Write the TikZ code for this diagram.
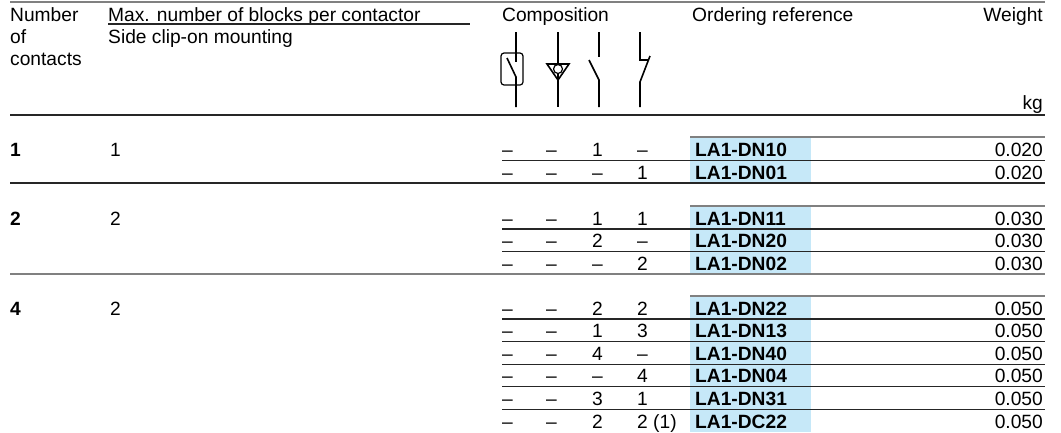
\documentclass[tikz,border=0pt]{standalone}
\usepackage{fontspec}
\setmainfont{Liberation Sans}
\definecolor{refblue}{RGB}{198,232,248}
\tikzset{
  txt/.style={inner sep=0pt, font=\fontsize{19.2}{22}\selectfont},
  lt/.style={txt, anchor=base west},
  rt/.style={txt, anchor=base east},
  bold/.style={font=\fontsize{19.2}{22}\selectfont\bfseries},
  rule/.style={line width=1.2pt, black!85},
  grayrule/.style={line width=2pt, black!50},
  sym/.style={line width=1.6pt},
}

\begin{document}
\begin{tikzpicture}[x=1pt,y=-1pt]
  \useasboundingbox (0,0) rectangle (1061,432);
  \draw[grayrule] (10,1.5) -- (1045,1.5);
  \node[lt] (hnum) at (10,21) {Number};
  \node[lt] (hof) at (10,43) {of};
  \node[lt] (hcont) at (10,65) {contacts};
  \node[lt] (hmax) at (108,21) {Max. number of blocks per contactor};
  \node[lt] (hside) at (108,43) {Side clip-on mounting};
  \node[lt] (hcomp) at (502,21) {Composition};
  \node[lt] (href) at (692,21) {Ordering reference};
  \node[rt] (hweight) at (1043,21) {Weight};
  \node[rt] (hkg) at (1043,109) {kg};
  \draw[rule] (108,24) -- (470,24);
  \draw[rule] (10,115) -- (1045,115);
  \draw[sym] (516,32) -- (516,62);
  \draw[sym] (507,58) -- (516,77) -- (516,107);
  \draw[line width=1.2pt, rounded corners=3pt] (501,53) rectangle (523,85);
  \draw[sym] (558,32) -- (558,107);
  \draw[sym, line join=miter] (547,64) -- (569,64) -- (558,80) -- cycle;
  \draw[line width=1.2pt, fill=white] (558,69) circle (4.5);
  \draw[sym] (599,32) -- (599,57);
  \draw[sym] (589,60) -- (599,80) -- (599,107);
  \draw[sym] (640,32) -- (640,60) -- (648,60);
  \draw[sym] (650,56) -- (640,82) -- (640,107);
  \fill[refblue] (690,137) rectangle (811,183);
  \draw[grayrule] (690,137) -- (1045,137);
  \node[lt,bold] (n1) at (10,156.5) {1};
  \node[lt] (m1) at (110,156.5) {1};
  \foreach \c/\d/\r [count=\i from 0] in {1/–/LA1-DN10,–/1/LA1-DN01}{
    \pgfmathsetmacro\yb{156.5+22.6*\i}
    \node[lt] (ga\i) at (502,\yb) {–};
    \node[lt] (gb\i) at (546,\yb) {–};
    \node[lt] (gc\i) at (592,\yb) {\c};
    \node[lt] (gd\i) at (637,\yb) {\d};
    \node[lt,bold] (gr\i) at (695,\yb) {\r};
    \node[rt] (gw\i) at (1043,\yb) {0.020};
  }
  \draw[rule] (502,160.5) -- (1045,160.5);
  \draw[rule] (10,183) -- (1045,183);
  \fill[refblue] (690,206) rectangle (811,274);
  \draw[grayrule] (690,206) -- (1045,206);
  \node[lt,bold] (n2) at (10,225) {2};
  \node[lt] (m2) at (110,225) {2};
  \foreach \c/\d/\r [count=\i from 0] in {1/1/LA1-DN11,2/–/LA1-DN20,–/2/LA1-DN02}{
    \pgfmathsetmacro\yb{225+22.6*\i}
    \node[lt] (ha\i) at (502,\yb) {–};
    \node[lt] (hb\i) at (546,\yb) {–};
    \node[lt] (hc\i) at (592,\yb) {\c};
    \node[lt] (hd\i) at (637,\yb) {\d};
    \node[lt,bold] (hr\i) at (695,\yb) {\r};
    \node[rt] (hw\i) at (1043,\yb) {0.030};
  }
  \foreach \i in {0,1}
    \draw[rule] (502,229+22.6*\i) -- (1045,229+22.6*\i);
  \draw[grayrule] (10,274) -- (1045,274);
  \fill[refblue] (690,296) rectangle (811,432);
  \draw[grayrule] (690,296) -- (1045,296);
  \node[lt,bold] (n4) at (10,315) {4};
  \node[lt] (m4) at (110,315) {2};
  \foreach \c/\d/\r [count=\i from 0] in {2/2/LA1-DN22,1/3/LA1-DN13,4/–/LA1-DN40,–/4/LA1-DN04,3/1/LA1-DN31,2/2 (1)/LA1-DC22}{
    \pgfmathsetmacro\yb{315+22.6*\i}
    \node[lt] (ka\i) at (502,\yb) {–};
    \node[lt] (kb\i) at (546,\yb) {–};
    \node[lt] (kc\i) at (592,\yb) {\c};
    \node[lt] (kd\i) at (637,\yb) {\d};
    \node[lt,bold] (kr\i) at (695,\yb) {\r};
    \node[rt] (kw\i) at (1043,\yb) {0.050};
  }
  \foreach \i in {0,...,4}
    \draw[rule] (502,319+22.6*\i) -- (1045,319+22.6*\i);
\end{tikzpicture}
\end{document}
